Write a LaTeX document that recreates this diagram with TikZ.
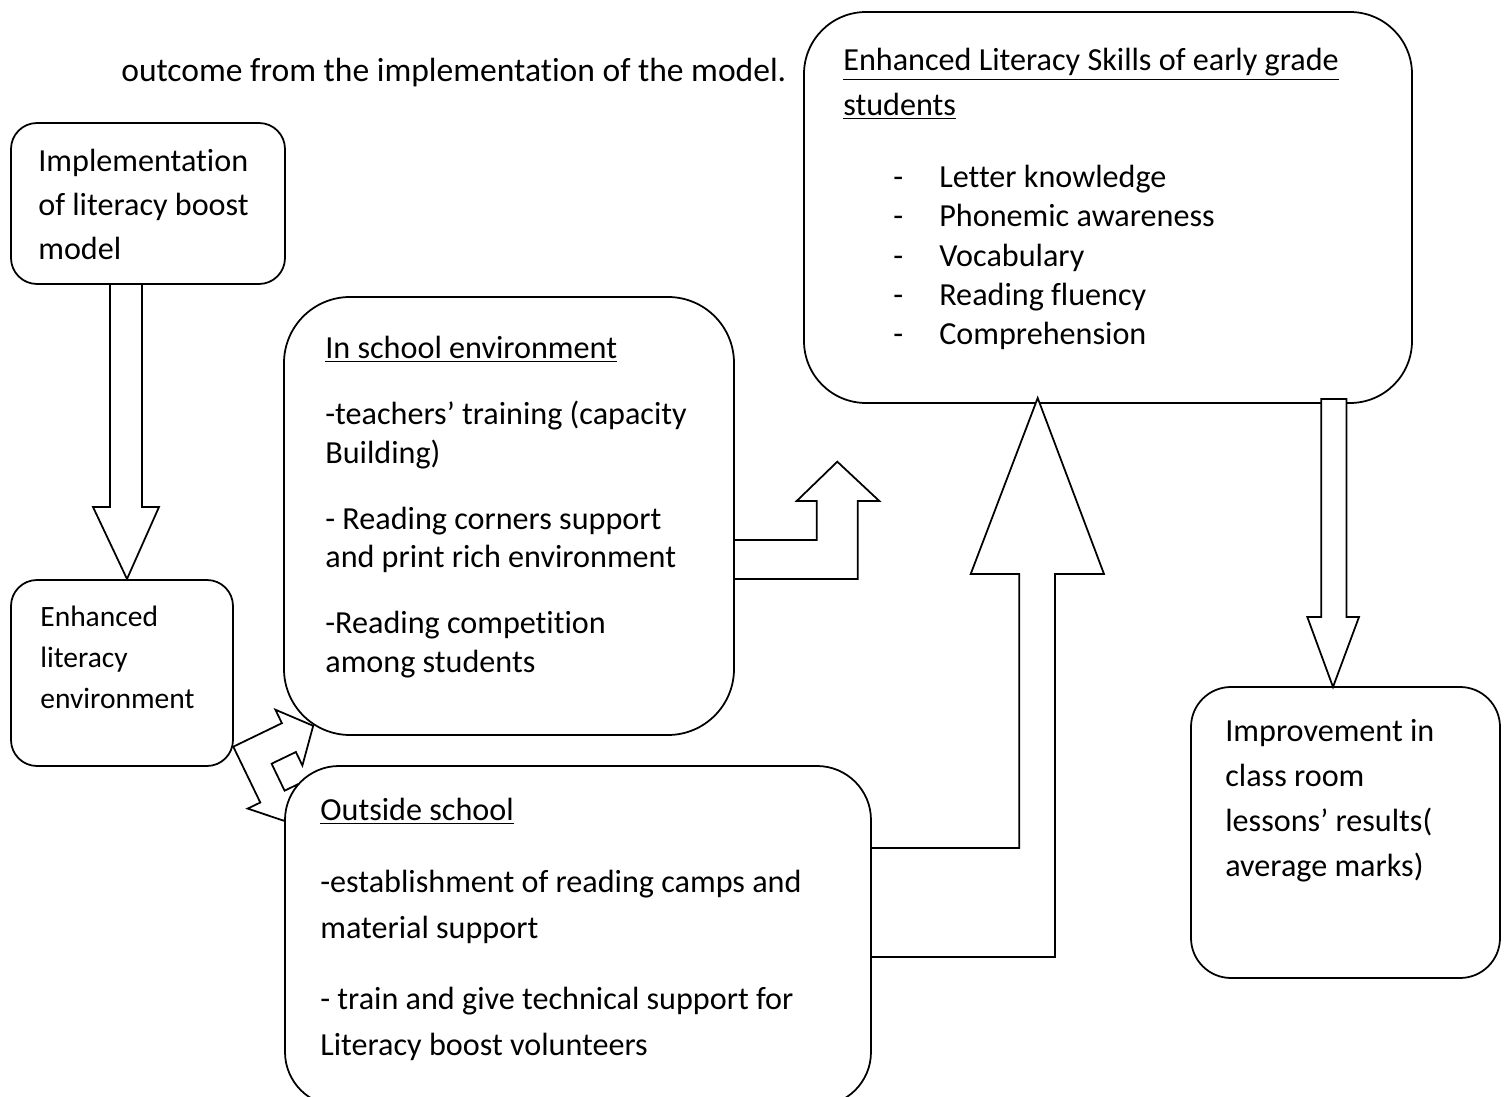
\documentclass[tikz,border=0pt]{standalone}
\usepackage{fontspec}
\setmainfont{Carlito}[Ligatures=NoCommon]
\newdimen\pxunit
\setlength{\pxunit}{0.02cm}
\tikzstyle{roundbox}=[draw,fill=white,line width=1pt,inner sep=0pt]
\tikzstyle{boxtext}=[anchor=base west,inner sep=0pt,text width=900\pxunit,execute at begin node={\spaceskip=0.226em\xspaceskip=0.226em\relax}]
\tikzstyle{blockarrow}=[draw,fill=white,line width=1pt,line join=miter]
\newcommand{\txtsize}[1]{\fontsize{18.3}{#1}\selectfont}
\newcommand{\dashitem}[1]{\makebox[46\pxunit][l]{-}#1}

\begin{document}
\begin{tikzpicture}[x=\pxunit,y=-\pxunit]
\useasboundingbox (0,0) rectangle (1505,1097);
% sentence above, partly under the skills box
\node[boxtext,font=\fontsize{19.1}{23}\selectfont] (leadtxt) at (121,82) {outcome from the implementation of the model.};
% boxes
\node[roundbox,rounded corners=62\pxunit,minimum width=608\pxunit,minimum height=391\pxunit] (skills) at (1108,207.5) {};
\node[roundbox,rounded corners=26\pxunit,minimum width=274\pxunit,minimum height=161\pxunit] (impl) at (148,203.5) {};
\node[roundbox,rounded corners=26\pxunit,minimum width=222\pxunit,minimum height=186\pxunit] (env) at (122,673) {};
\node[roundbox,rounded corners=66\pxunit,minimum width=450\pxunit,minimum height=438\pxunit] (insch) at (509,516) {};
\node[roundbox,rounded corners=40\pxunit,minimum width=309\pxunit,minimum height=291\pxunit] (impr) at (1345.5,832.5) {};
% texts
\node[boxtext,font=\txtsize{25.6}] (skillstxt) at (843,71) {\underline{Enhanced Literacy Skills of early grade}\\\underline{students}};
\node[boxtext,font=\txtsize{22.2}] (skillslist) at (893,188) {\dashitem{Letter knowledge}\\\dashitem{Phonemic awareness}\\\dashitem{Vocabulary}\\\dashitem{Reading fluency}\\\dashitem{Comprehension}};
\node[boxtext,font=\txtsize{25}] (impltxt) at (38,172) {Implementation\\of literacy boost\\model};
\node[boxtext,font=\fontsize{16.8}{23.3}\selectfont] (envtxt) at (40,627) {Enhanced\\literacy\\environment};
\node[boxtext,font=\txtsize{21.9}] (inschtxt) at (325,359) {\underline{In school environment}\\[15.6pt]-teachers’ training (capacity\\Building)\\[15.6pt]- Reading corners support\\and print rich environment\\[15.6pt]-Reading competition\\among students};
\node[boxtext,font=\txtsize{25.6}] (imprtxt) at (1225,742) {Improvement in\\class room\\lessons’ results(\\average marks)};
% block arrows
\draw[blockarrow] (110,284) -- (110,507) -- (93,507) -- (127,579) -- (159,507) -- (142,507) -- (142,284) -- cycle;
\draw[blockarrow] (734,540) -- (816.7,540) -- (816.7,501) -- (796.7,501) -- (837.3,461.7) -- (879.3,501) -- (857.7,501) -- (857.7,579) -- (734,579) -- cycle;
\draw[blockarrow] (870.7,848) -- (1019.3,848) -- (1019.3,574) -- (970.7,574) -- (1037.7,398) -- (1104,574) -- (1055,574) -- (1055,957) -- (870.7,957) -- cycle;
\draw[blockarrow] (1321.3,399) -- (1321.3,617) -- (1307.3,617) -- (1333,687) -- (1359,617) -- (1346.4,617) -- (1346.4,399) -- cycle;
% two-way bent arrow out of env
\draw[blockarrow] (233.3,746.7) -- (281.9,723.2) -- (275.4,709.7) -- (313.2,725.8) -- (302.4,765.5) -- (295.9,752) -- (271.6,763.7) -- (284.6,790.7) -- (297.2,784.6) -- (284.3,820.9) -- (247.7,808.6) -- (260.3,802.5) -- cycle;
% outside school box on top
\node[roundbox,rounded corners=54\pxunit,minimum width=586\pxunit,minimum height=340\pxunit] (outsch) at (578,936) {};
\node[boxtext,font=\txtsize{25.9}] (outschtxt) at (320,821) {\underline{Outside school}\\[14.8pt]-establishment of reading camps and\\material support\\[14.8pt]- train and give technical support for\\Literacy boost volunteers};
\end{tikzpicture}
\end{document}
